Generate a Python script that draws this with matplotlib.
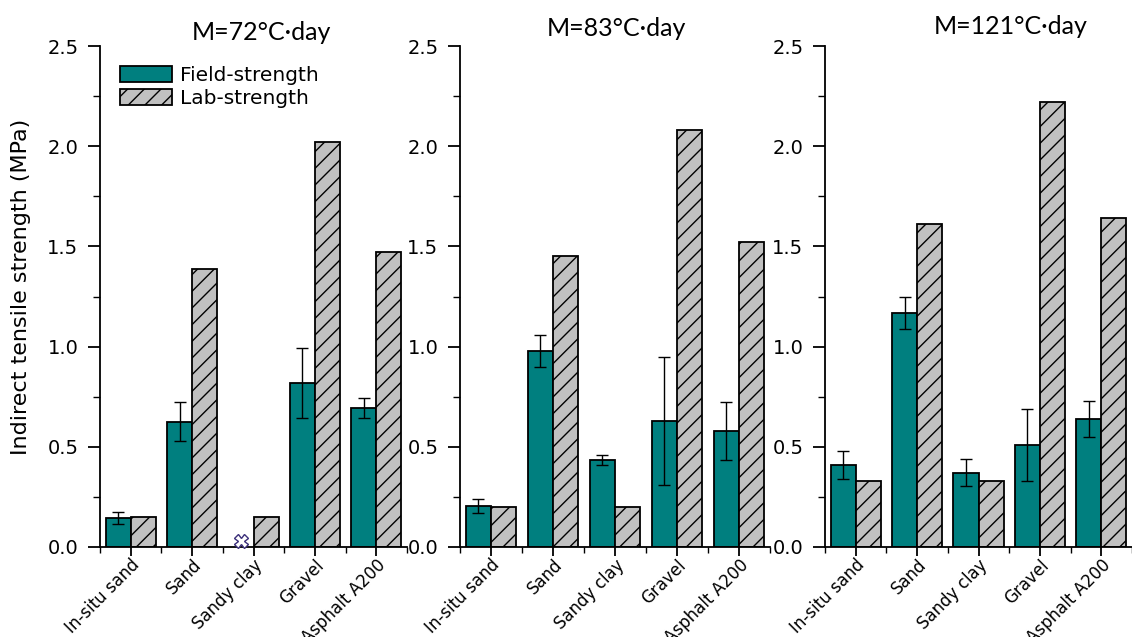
import matplotlib
matplotlib.use("Agg")
import matplotlib.pyplot as plt
import numpy as np
from matplotlib.transforms import ScaledTranslation
from matplotlib.ticker import MultipleLocator, FixedLocator

plt.rcParams['font.family'] = ['DejaVu Sans']
plt.rcParams['hatch.linewidth'] = 1.0

categories = ["In-situ sand", "Sand", "Sandy clay", "Gravel", "Asphalt A200"]
titles = ["M=72°C\u2219day", "M=83°C\u2219day", "M=121°C\u2219day"]

field_72 = [0.145, 0.625, np.nan, 0.82, 0.695]
field_72_err = [0.03, 0.097, np.nan, 0.175, 0.05]
lab_72 = [0.15, 1.385, 0.15, 2.02, 1.47]

field_83 = [0.205, 0.98, 0.435, 0.63, 0.58]
field_83_err = [0.037, 0.08, 0.025, 0.32, 0.145]
lab_83 = [0.20, 1.45, 0.20, 2.08, 1.52]

field_121 = [0.41, 1.17, 0.37, 0.51, 0.64]
field_121_err = [0.07, 0.08, 0.067, 0.18, 0.09]
lab_121 = [0.33, 1.61, 0.33, 2.22, 1.64]

missing_x = "Sandy clay"
missing_y = 0.03

field_sets = [field_72, field_83, field_121]
err_sets = [field_72_err, field_83_err, field_121_err]
lab_sets = [lab_72, lab_83, lab_121]

W, H = 1132, 637
fig = plt.figure(figsize=(W / 100, H / 100), dpi=100)

ax_px = [(100, 307), (460, 310), (825, 307)]
bottom_px, top_px = 547, 46
title_pos = [(261, 32), (616, 28), (1011, 26)]

x = np.arange(1, len(categories) + 1)
bw = 0.41
teal = "#007f7f"
gray = "#c0c0c0"

for i in range(3):
    l, w = ax_px[i]
    ax = fig.add_axes([l / W, (H - bottom_px) / H, w / W, (bottom_px - top_px) / H])
    f = np.array(field_sets[i], dtype=float)
    e = np.array(err_sets[i], dtype=float)
    ax.bar(x - bw / 2, f, bw, color=teal, edgecolor="black", linewidth=1.3,
           label="Field-strength", zorder=2)
    ax.errorbar(x - bw / 2, f, yerr=e, fmt="none", ecolor="black", elinewidth=1.0,
                capsize=4.5, capthick=1.0, zorder=3)
    ax.bar(x + bw / 2, lab_sets[i], bw, color=gray, edgecolor="black",
           linewidth=1.3, hatch="//", label="Lab-strength", zorder=2)
    if i == 0:
        mi = categories.index(missing_x)
        ax.plot([x[mi] - bw / 2], [missing_y], marker="X", markersize=10,
                markerfacecolor="white", markeredgecolor="#3b2f7a",
                markeredgewidth=1.0, linestyle="none", zorder=4, clip_on=False)
        ax.legend(loc="upper left", bbox_to_anchor=(20 / w, 1 - 20 / (bottom_px - top_px)),
                  frameon=False, fontsize=14.5, handlelength=2.6, handleheight=0.85,
                  labelspacing=0.2, handletextpad=0.4, borderpad=0, borderaxespad=0)
        ax.set_ylabel("Indirect tensile strength (MPa)", fontsize=16)
        ax.yaxis.set_label_coords(-0.225, 0.52)

    ax.set_xlim(0.5, len(categories) + 0.5)
    ax.set_ylim(0, 2.5)
    ax.spines["top"].set_visible(False)
    ax.spines["right"].set_visible(False)
    for s in ("left", "bottom"):
        ax.spines[s].set_linewidth(1.3)
    ax.yaxis.set_minor_locator(MultipleLocator(0.25))
    ax.set_yticks(np.arange(0, 2.51, 0.5))
    ax.set_yticklabels([f"{v:.1f}" for v in np.arange(0, 2.51, 0.5)], fontsize=14)
    ax.set_xticks(x)
    ax.xaxis.set_minor_locator(FixedLocator(np.arange(0.5, len(categories) + 1, 1.0)))
    ax.set_xticklabels(categories, fontsize=12, rotation=45, ha="right",
                       va="top", rotation_mode="anchor")
    off = ScaledTranslation(23 / 100, 0, fig.dpi_scale_trans)
    for lab in ax.get_xticklabels():
        lab.set_transform(lab.get_transform() + off)
    ax.tick_params(axis="y", which="major", direction="out", length=8.6, width=1.3, pad=7)
    ax.tick_params(axis="y", which="minor", direction="out", length=5, width=1.0)
    ax.tick_params(axis="x", which="major", direction="out", length=6.5, width=1.3, pad=0)
    ax.tick_params(axis="x", which="minor", direction="out", length=4.5, width=1.0)

    tx, ty = title_pos[i]
    fig.text(tx / W, 1 - ty / H, titles[i], ha="center", va="center",
             fontsize=18, family=["Lato", "DejaVu Sans"])

fig.savefig("out.png", dpi=100)
